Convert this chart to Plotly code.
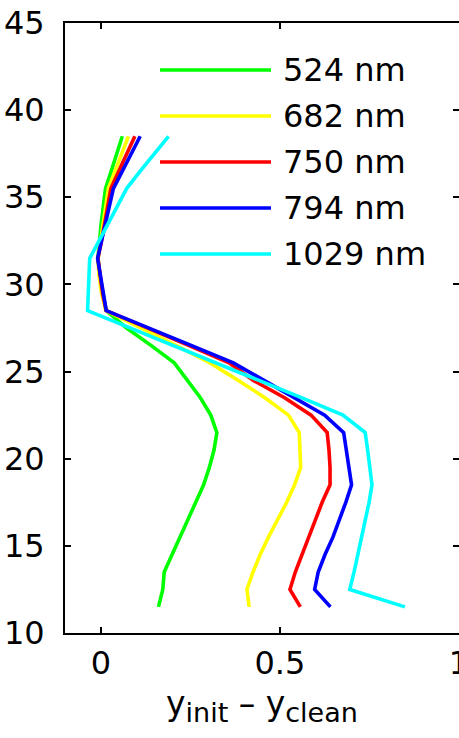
import plotly.graph_objects as go

# altitude levels (km) shared by every profile
altitude = [11.5, 12.5, 13.5, 14.5, 15.5, 16.5, 17.5, 18.5, 19.5, 20.5,
            21.5, 22.5, 23.5, 24.5, 25.5, 26.5, 27.5, 28.5, 29.5, 30.5,
            31.5, 32.5, 33.5, 34.5, 35.5, 36.5, 37.5, 38.5]

# y_init - y_clean for each wavelength
diff_524 = [0.161, 0.173, 0.177, 0.199, 0.222, 0.243, 0.266, 0.287, 0.303, 0.316,
            0.324, 0.307, 0.278, 0.243, 0.205, 0.140, 0.072, 0.015, 0.005, -0.003,
            -0.008, -0.004, 0.001, 0.007, 0.013, 0.029, 0.045, 0.060]
diff_682 = [0.414, 0.408, 0.425, 0.445, 0.468, 0.494, 0.519, 0.541, 0.558, 0.556,
            0.554, 0.524, 0.458, 0.383, 0.305, 0.210, 0.110, 0.014, 0.002, -0.005,
            -0.008, 0.000, 0.007, 0.014, 0.021, 0.040, 0.058, 0.077]
diff_750 = [0.557, 0.528, 0.543, 0.562, 0.582, 0.600, 0.618, 0.640, 0.640, 0.637,
            0.632, 0.587, 0.513, 0.425, 0.358, 0.245, 0.130, 0.015, 0.005, -0.002,
            -0.008, 0.002, 0.011, 0.020, 0.028, 0.050, 0.072, 0.095]
diff_794 = [0.641, 0.597, 0.607, 0.626, 0.648, 0.667, 0.684, 0.700, 0.693, 0.686,
            0.678, 0.625, 0.540, 0.455, 0.370, 0.252, 0.133, 0.015, 0.007, -0.001,
            -0.009, 0.002, 0.013, 0.024, 0.035, 0.060, 0.085, 0.110]
diff_1029 = [0.849, 0.695, 0.707, 0.718, 0.729, 0.739, 0.749, 0.757, 0.752, 0.745,
             0.738, 0.676, 0.560, 0.440, 0.320, 0.200, 0.082, -0.037, -0.035, -0.033,
             -0.031, -0.005, 0.020, 0.046, 0.072, 0.110, 0.150, 0.189]

series_names = ["524 nm", "682 nm", "750 nm", "794 nm", "1029 nm"]
series_values = [diff_524, diff_682, diff_750, diff_794, diff_1029]
series_colors = ["#00ff00", "#ffff00", "#ff0000", "#0000ff", "#00ffff"]

x_ticks = [0, 0.5, 1]
x_tick_labels = ["0", "0.5", "1"]
y_ticks = [10, 15, 20, 25, 30, 35, 40, 45]
y_tick_labels = [str(v) for v in y_ticks]

FONT = "DejaVu Sans"
W, H = 459, 738
ML, MR, MT, MB = 65, 0, 23, 105
PW, PH = W - ML - MR, H - MT - MB

fig = go.Figure()

for name, vals, col in zip(series_names, series_values, series_colors):
    fig.add_trace(go.Scatter(x=vals, y=altitude, mode="lines", name=name,
                             line=dict(color=col, width=3.6),
                             showlegend=False, hoverinfo="skip"))

# carrier trace for the mirrored top / right axes
fig.add_trace(go.Scatter(x=[0.5], y=[20], xaxis="x2", yaxis="y2", mode="markers",
                         marker=dict(opacity=0), showlegend=False, hoverinfo="skip"))

axis_common = dict(showgrid=False, zeroline=False, ticks="inside", ticklen=6,
                   tickwidth=1.5, tickcolor="black", linecolor="black", linewidth=2,
                   automargin=False)

fig.update_layout(
    width=W, height=H,
    margin=dict(l=ML, r=MR, t=MT, b=MB, pad=0, autoexpand=False),
    paper_bgcolor="white", plot_bgcolor="white",
    font=dict(family=FONT, size=32, color="black"),
    xaxis=dict(range=[-0.1, 1.0], tickvals=x_ticks, ticktext=x_tick_labels,
               showline=True, ticklabelstandoff=1, ticklabeloverflow="allow",
               **axis_common),
    yaxis=dict(range=[10, 45], tickvals=y_ticks, ticktext=y_tick_labels,
               showline=True, ticklabelstandoff=12, ticklabeloverflow="allow",
               **axis_common),
    xaxis2=dict(range=[-0.1, 1.0], tickvals=x_ticks, overlaying="x", side="top",
                showline=True, showticklabels=False, **axis_common),
    yaxis2=dict(range=[10, 45], tickvals=y_ticks, overlaying="y", side="right",
                showline=False, showticklabels=False, **axis_common),
)

# legend drawn as line samples with labels
legend_rows_py = [70, 116, 162, 208, 254]
for name, col, py in zip(series_names, series_colors, legend_rows_py):
    yp = (H - MB - py) / PH
    fig.add_shape(type="line", xref="paper", yref="paper",
                  x0=(160 - ML) / PW, x1=(271 - ML) / PW, y0=yp, y1=yp,
                  line=dict(color=col, width=3.6))
    fig.add_annotation(xref="paper", yref="paper", x=(281 - ML) / PW, y=yp,
                       xanchor="left", yanchor="middle", text=name, showarrow=False,
                       font=dict(family=FONT, size=32, color="black"))

# x-axis title with subscripts
sub = '<sub><span style="font-size:27px">{}</span></sub>'
fig.add_annotation(xref="paper", yref="paper", x=0.5, y=(H - MB - 682) / PH,
                   xanchor="center", yanchor="top", showarrow=False,
                   text="y" + sub.format("init") + " \u2013 y" + sub.format("clean"),
                   font=dict(family=FONT, size=33, color="black"))

fig.write_html("out.html")
